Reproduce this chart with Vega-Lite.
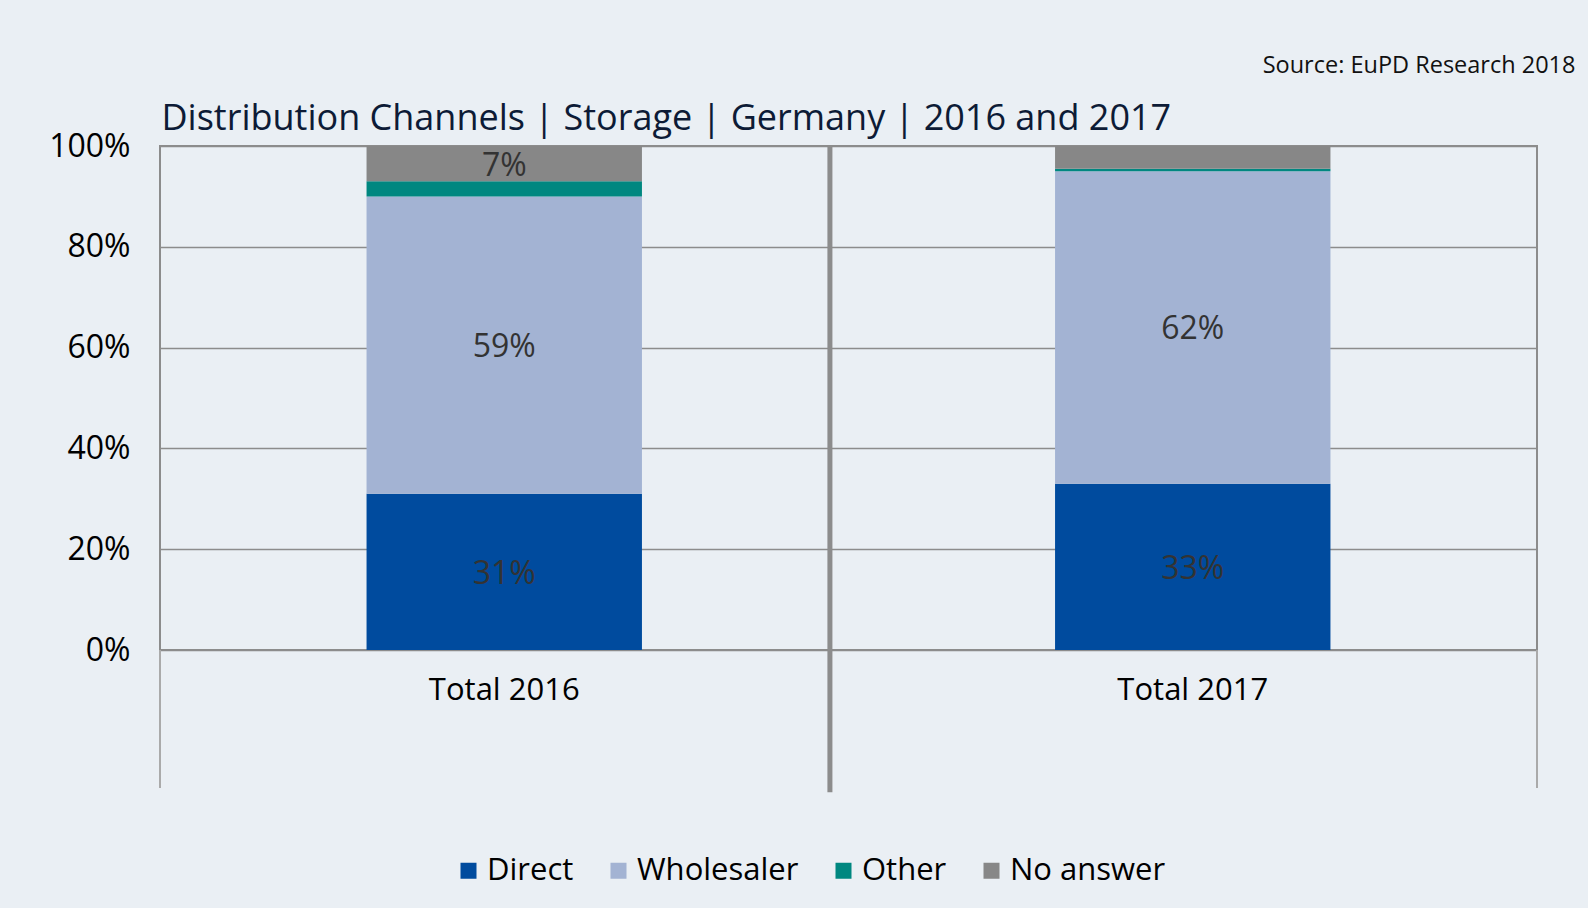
{
  "$schema": "https://vega.github.io/schema/vega-lite/v6.json",
  "width": 1377,
  "height": 504,
  "autosize": {"type": "none"},
  "padding": {"left": 160, "top": 146, "right": 51, "bottom": 258},
  "background": "#eaeff4",
  "config": {
    "font": "Open Sans",
    "view": {"stroke": "#8c8c8c", "strokeWidth": 2},
    "axis": {"labelFont": "Open Sans", "titleFont": "Open Sans"},
    "legend": {"labelFont": "Open Sans"}
  },
  "resolve": {"scale": {"x": "independent"}},
  "layer": [
    {
      "data": {"values": [
        {"period": "Total 2016", "channel": "Direct", "order": 1, "value": 31, "label": "31%"},
        {"period": "Total 2016", "channel": "Wholesaler", "order": 2, "value": 59, "label": "59%"},
        {"period": "Total 2016", "channel": "Other", "order": 3, "value": 3, "label": ""},
        {"period": "Total 2016", "channel": "No answer", "order": 4, "value": 7, "label": "7%"},
        {"period": "Total 2017", "channel": "Direct", "order": 1, "value": 33, "label": "33%"},
        {"period": "Total 2017", "channel": "Wholesaler", "order": 2, "value": 62, "label": "62%"},
        {"period": "Total 2017", "channel": "Other", "order": 3, "value": 0.5, "label": ""},
        {"period": "Total 2017", "channel": "No answer", "order": 4, "value": 4.5, "label": ""}
      ]},
      "transform": [
        {"stack": "value", "groupby": ["period"], "sort": [{"field": "order", "order": "ascending"}], "as": ["y0", "y1"]},
        {"calculate": "(datum.y0 + datum.y1) / 2", "as": "ymid"}
      ],
      "layer": [
        {
          "mark": {"type": "bar", "width": {"band": 0.4}},
          "encoding": {
            "x": {
              "field": "period", "type": "nominal",
              "scale": {"paddingInner": 0, "paddingOuter": 0},
              "axis": {
                "title": "Source: EuPD Research 2018",
                "titleX": 1415, "titleY": -578, "titleAlign": "right", "titleBaseline": "alphabetic",
                "titleFontSize": 23.5, "titleFontWeight": "normal", "titleColor": "#111111",
                "labelAngle": 0, "labelFontSize": 31, "labelColor": "#000000", "labelPadding": 25,
                "domain": false, "ticks": false, "tickSize": 0, "grid": false
              }
            },
            "y": {
              "field": "y0", "type": "quantitative",
              "scale": {"domain": [0, 100], "nice": false},
              "axis": {
                "values": [0, 20, 40, 60, 80, 100],
                "labelExpr": "datum.value + '%'",
                "labelFontSize": 32, "labelColor": "#000000", "labelPadding": 30,
                "domain": false, "ticks": false, "tickSize": 0,
                "grid": true, "gridColor": "#8c8c8c", "gridWidth": 1.5,
                "title": "Distribution Channels | Storage | Germany | 2016 and 2017",
                "titleAngle": 0, "titleX": 1, "titleY": -17, "titleAlign": "left", "titleBaseline": "alphabetic",
                "titleFontSize": 36, "titleFontWeight": "normal", "titleColor": "#0d1b36"
              }
            },
            "y2": {"field": "y1"},
            "color": {
              "field": "channel", "type": "nominal",
              "scale": {"domain": ["Direct", "Wholesaler", "Other", "No answer"], "range": ["#004b9e", "#a3b3d3", "#008780", "#878787"]},
              "legend": {
                "title": null, "orient": "none", "legendX": 293, "legendY": 709, "direction": "horizontal",
                "symbolType": "square", "symbolSize": 256, "symbolStrokeWidth": 0,
                "labelFontSize": 31, "labelColor": "#000000", "labelLimit": 400,
                "columnPadding": 29, "labelOffset": 3, "padding": 0
              }
            }
          }
        },
        {
          "transform": [{"filter": "datum.label != ''"}],
          "mark": {"type": "text", "fontSize": 32, "color": "#333333", "baseline": "middle", "align": "center", "dy": 2},
          "encoding": {
            "x": {"field": "period", "type": "nominal"},
            "y": {"field": "ymid", "type": "quantitative", "scale": {"domain": [0, 100], "nice": false}},
            "text": {"field": "label"}
          }
        }
      ]
    },
    {
      "data": {"values": [
        {"pos": 0, "top": 0, "bottom": -27.4},
        {"pos": 2, "top": 0, "bottom": -27.4}
      ]},
      "mark": {"type": "rule", "color": "#aaaaaa", "strokeWidth": 2},
      "encoding": {
        "x": {"field": "pos", "type": "quantitative", "scale": {"domain": [0, 2], "nice": false, "zero": false}, "axis": null},
        "y": {"field": "top", "type": "quantitative", "scale": {"domain": [0, 100], "nice": false}},
        "y2": {"field": "bottom"}
      }
    },
    {
      "data": {"values": [
        {"pos": 0.973, "top": 100, "bottom": -28.2}
      ]},
      "mark": {"type": "rule", "color": "#8c8c8c", "strokeWidth": 5},
      "encoding": {
        "x": {"field": "pos", "type": "quantitative", "scale": {"domain": [0, 2], "nice": false, "zero": false}, "axis": null},
        "y": {"field": "top", "type": "quantitative", "scale": {"domain": [0, 100], "nice": false}},
        "y2": {"field": "bottom"}
      }
    }
  ]
}
